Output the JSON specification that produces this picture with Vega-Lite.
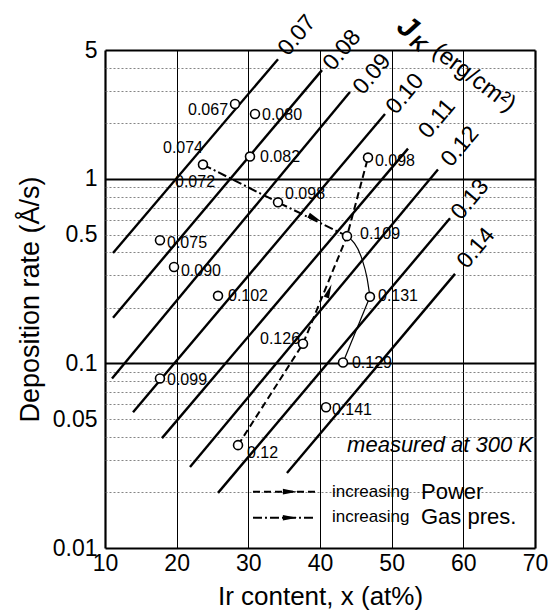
{
  "$schema": "https://vega.github.io/schema/vega-lite/v6.json",
  "width": 430,
  "height": 498,
  "autosize": {"type": "none"},
  "padding": {"left": 105, "top": 50, "right": 13, "bottom": 66},
  "background": "white",
  "config": {"view": {"stroke": null}, "font": "Liberation Sans"},
  "datasets": {
    "contours": [
      {"J": "0.07", "x": 11.12, "y": 0.397}, {"J": "0.07", "x": 34.14, "y": 4.46},
      {"J": "0.08", "x": 11.12, "y": 0.177}, {"J": "0.08", "x": 40.28, "y": 3.89},
      {"J": "0.09", "x": 10.98, "y": 0.083}, {"J": "0.09", "x": 44.18, "y": 2.96},
      {"J": "0.10", "x": 13.91, "y": 0.0544}, {"J": "0.10", "x": 49.07, "y": 2.25},
      {"J": "0.11", "x": 17.95, "y": 0.0394}, {"J": "0.11", "x": 52.28, "y": 1.46},
      {"J": "0.12", "x": 21.86, "y": 0.0275}, {"J": "0.12", "x": 56.46, "y": 1.125},
      {"J": "0.13", "x": 25.77, "y": 0.0199}, {"J": "0.13", "x": 58.14, "y": 0.612},
      {"J": "0.14", "x": 35.39, "y": 0.0255}, {"J": "0.14", "x": 58.84, "y": 0.306}
    ],
    "clabels": [
      {"x": 36.79, "y": 6.01, "t": "0.07"},
      {"x": 43.07, "y": 4.99, "t": "0.08"},
      {"x": 47.25, "y": 3.70, "t": "0.09"},
      {"x": 51.86, "y": 2.89, "t": "0.10"},
      {"x": 56.32, "y": 2.12, "t": "0.11"},
      {"x": 59.53, "y": 1.50, "t": "0.12"},
      {"x": 60.93, "y": 0.775, "t": "0.13"},
      {"x": 61.77, "y": 0.422, "t": "0.14"}
    ],
    "pts": [
      {"x": 28.14, "y": 2.55}, {"x": 30.93, "y": 2.25}, {"x": 23.67, "y": 1.197},
      {"x": 30.23, "y": 1.322}, {"x": 34.14, "y": 0.747}, {"x": 46.70, "y": 1.306},
      {"x": 43.77, "y": 0.490}, {"x": 46.97, "y": 0.2297}, {"x": 17.67, "y": 0.466},
      {"x": 19.63, "y": 0.3334}, {"x": 25.77, "y": 0.2326}, {"x": 37.63, "y": 0.128},
      {"x": 43.21, "y": 0.1012}, {"x": 40.84, "y": 0.0579}, {"x": 17.67, "y": 0.083},
      {"x": 28.56, "y": 0.0361}
    ],
    "plabels": [
      {"x": 21.58, "y": 2.37, "t": "0.067"}, {"x": 31.91, "y": 2.23, "t": "0.080"},
      {"x": 18.09, "y": 1.479, "t": "0.074"}, {"x": 19.77, "y": 0.957, "t": "0.072"},
      {"x": 31.63, "y": 1.322, "t": "0.082"}, {"x": 35.12, "y": 0.825, "t": "0.098"},
      {"x": 47.67, "y": 1.258, "t": "0.098"}, {"x": 45.58, "y": 0.502, "t": "0.109"},
      {"x": 48.09, "y": 0.233, "t": "0.131"}, {"x": 18.65, "y": 0.449, "t": "0.075"},
      {"x": 20.60, "y": 0.317, "t": "0.090"}, {"x": 27.16, "y": 0.2326, "t": "0.102"},
      {"x": 31.63, "y": 0.1363, "t": "0.126"}, {"x": 44.46, "y": 0.1012, "t": "0.129"},
      {"x": 41.67, "y": 0.0558, "t": "0.141"}, {"x": 18.65, "y": 0.081, "t": "0.099"},
      {"x": 29.81, "y": 0.0327, "t": "0.12"}
    ],
    "power": [
      {"i": 1, "x": 28.56, "y": 0.0361}, {"i": 2, "x": 37.63, "y": 0.128},
      {"i": 3, "x": 43.77, "y": 0.490}, {"i": 4, "x": 46.70, "y": 1.306}
    ],
    "gas": [
      {"i": 1, "x": 23.67, "y": 1.197}, {"i": 2, "x": 34.14, "y": 0.747}, {"i": 3, "x": 43.77, "y": 0.490}
    ],
    "gascurve": [
      {"i": 1, "x": 43.77, "y": 0.490}, {"i": 2, "x": 45.86, "y": 0.368},
      {"i": 3, "x": 46.56, "y": 0.2908}, {"i": 4, "x": 46.97, "y": 0.2297}
    ],
    "gasend": [
      {"i": 1, "x": 46.97, "y": 0.2297}, {"i": 2, "x": 43.21, "y": 0.1012}
    ],
    "arrows": [
      {"k": "gas", "x": 39.30, "y": 0.612},
      {"k": "power", "x": 41.25, "y": 0.2474},
      {"k": "leg", "x": 35.81, "y": 0.0202},
      {"k": "leg", "x": 35.81, "y": 0.01459}
    ],
    "leg": [
      {"k": "p", "x": 30.65, "y": 0.0202}, {"k": "p", "x": 39.30, "y": 0.0202},
      {"k": "g", "x": 30.65, "y": 0.01459}, {"k": "g", "x": 39.30, "y": 0.01459}
    ],
    "legsmall": [
      {"x": 41.67, "y": 0.0202, "t": "increasing"},
      {"x": 41.67, "y": 0.01479, "t": "increasing"}
    ],
    "legbig": [
      {"x": 54.09, "y": 0.0202, "t": "Power"},
      {"x": 54.09, "y": 0.01479, "t": "Gas pres."}
    ],
    "note": [{"x": 69.72, "y": 0.0361, "t": "measured at 300 K"}],
    "jJ": [{"x": 52.14, "y": 6.64, "t": "J"}],
    "jK": [{"x": 53.67, "y": 5.38, "t": "K"}],
    "jrest": [{"x": 61.49, "y": 3.53, "t": "(erg/cm²)"}]
  },
  "encoding": {
    "x": {
      "field": "x", "type": "quantitative",
      "scale": {"domain": [10, 70], "nice": false, "zero": false},
      "axis": {
        "values": [10, 20, 30, 40, 50, 60, 70], "grid": true, "gridColor": "black",
        "gridOpacity": 1,
        "gridWidth": {"condition": {"test": "datum.value === 10 || datum.value === 70", "value": 2.2}, "value": 1},
        "ticks": false, "domain": false,
        "labelFontSize": 23, "labelPadding": 4, "labelColor": "black", "labelFlush": false,
        "labelFont": "Liberation Sans",
        "title": "Ir content, x (at%)", "titleFontSize": 26, "titleFontWeight": "normal",
        "titleFont": "Liberation Sans", "titlePadding": 8, "titleColor": "black"
      }
    },
    "y": {
      "field": "y", "type": "quantitative",
      "scale": {"type": "log", "domain": [0.01, 5], "nice": false},
      "axis": {
        "values": [0.01, 0.02, 0.03, 0.04, 0.05, 0.06, 0.07, 0.08, 0.09, 0.1, 0.2, 0.3, 0.4, 0.5, 0.6, 0.7, 0.8, 0.9, 1, 2, 3, 4, 5],
        "format": "~g",
        "labelExpr": "(datum.value === 0.01 || datum.value === 0.05 || datum.value === 0.1 || datum.value === 0.5 || datum.value === 1 || datum.value === 5) ? datum.label : ''",
        "grid": true, "gridOpacity": 1,
        "gridColor": {"condition": {"test": "datum.value === 0.01 || datum.value === 0.1 || datum.value === 1 || datum.value === 5", "value": "black"}, "value": "#666"},
        "gridDash": {"condition": {"test": "datum.value === 0.01 || datum.value === 0.1 || datum.value === 1 || datum.value === 5", "value": []}, "value": [2, 2]},
        "gridWidth": {"condition": {"test": "datum.value === 0.01 || datum.value === 0.1 || datum.value === 1 || datum.value === 5", "value": 2}, "value": 0.8},
        "ticks": false,
        "domain": false, "labelFontSize": 23, "labelPadding": 8, "labelColor": "black",
        "labelFlush": false, "labelFont": "Liberation Sans", "labelOverlap": false,
        "title": "Deposition rate (Å/s)", "titleFontSize": 27, "titleFontWeight": "normal",
        "titleFont": "Liberation Sans", "titlePadding": 8, "titleColor": "black"
      }
    }
  },
  "layer": [
    {
      "data": {"name": "contours"},
      "mark": {"type": "line", "color": "black", "strokeWidth": 2.4},
      "encoding": {"detail": {"field": "J"}}
    },
    {
      "data": {"name": "power"},
      "mark": {"type": "line", "color": "black", "strokeWidth": 2, "strokeDash": [7, 4]},
      "encoding": {"order": {"field": "i"}}
    },
    {
      "data": {"name": "gas"},
      "mark": {"type": "line", "color": "black", "strokeWidth": 2, "strokeDash": [9, 3, 2, 3]},
      "encoding": {"order": {"field": "i"}}
    },
    {
      "data": {"name": "gascurve"},
      "mark": {"type": "line", "color": "black", "strokeWidth": 1.2, "interpolate": "monotone"},
      "encoding": {"order": {"field": "i"}}
    },
    {
      "data": {"name": "gasend"},
      "mark": {"type": "line", "color": "black", "strokeWidth": 1.2},
      "encoding": {"order": {"field": "i"}}
    },
    {
      "data": {"name": "leg"},
      "transform": [{"filter": "datum.k === 'p'"}],
      "mark": {"type": "line", "color": "black", "strokeWidth": 2, "strokeDash": [7, 4]},
      "encoding": {}
    },
    {
      "data": {"name": "leg"},
      "transform": [{"filter": "datum.k === 'g'"}],
      "mark": {"type": "line", "color": "black", "strokeWidth": 2, "strokeDash": [9, 3, 2, 3]},
      "encoding": {}
    },
    {
      "data": {"name": "arrows"},
      "transform": [{"filter": "datum.k === 'gas'"}],
      "mark": {"type": "point", "shape": "M1,0L-1,-0.4L-1,0.4Z", "filled": true, "color": "black", "opacity": 1, "size": 200, "angle": 26}
    },
    {
      "data": {"name": "arrows"},
      "transform": [{"filter": "datum.k === 'power'"}],
      "mark": {"type": "point", "shape": "M1,0L-1,-0.4L-1,0.4Z", "filled": true, "color": "black", "opacity": 1, "size": 200, "angle": -68}
    },
    {
      "data": {"name": "arrows"},
      "transform": [{"filter": "datum.k === 'leg'"}],
      "mark": {"type": "point", "shape": "M1,0L-1,-0.4L-1,0.4Z", "filled": true, "color": "black", "opacity": 1, "size": 200, "angle": 0}
    },
    {
      "data": {"name": "pts"},
      "mark": {"type": "point", "shape": "circle", "filled": true, "fill": "white", "stroke": "black", "strokeWidth": 1.6, "opacity": 1, "size": 80}
    },
    {
      "data": {"name": "plabels"},
      "mark": {"type": "text", "align": "left", "baseline": "middle", "fontSize": 16, "font": "Liberation Sans", "color": "black"},
      "encoding": {"text": {"field": "t"}}
    },
    {
      "data": {"name": "clabels"},
      "mark": {"type": "text", "align": "center", "baseline": "middle", "fontSize": 23, "font": "Liberation Sans", "angle": -50, "color": "black"},
      "encoding": {"text": {"field": "t"}}
    },
    {
      "data": {"name": "jJ"},
      "mark": {"type": "text", "align": "center", "baseline": "middle", "fontSize": 30, "fontWeight": "bold", "fontStyle": "italic", "font": "Liberation Sans", "angle": 37, "color": "black"},
      "encoding": {"text": {"field": "t"}}
    },
    {
      "data": {"name": "jK"},
      "mark": {"type": "text", "align": "center", "baseline": "middle", "fontSize": 20, "fontWeight": "bold", "fontStyle": "italic", "font": "Liberation Sans", "angle": 37, "color": "black"},
      "encoding": {"text": {"field": "t"}}
    },
    {
      "data": {"name": "jrest"},
      "mark": {"type": "text", "align": "center", "baseline": "middle", "fontSize": 24, "font": "Liberation Sans", "angle": 37, "color": "black"},
      "encoding": {"text": {"field": "t"}}
    },
    {
      "data": {"name": "note"},
      "mark": {"type": "text", "align": "right", "baseline": "middle", "fontSize": 22, "fontStyle": "italic", "font": "Liberation Sans", "color": "black"},
      "encoding": {"text": {"field": "t"}}
    },
    {
      "data": {"name": "legsmall"},
      "mark": {"type": "text", "align": "left", "baseline": "middle", "fontSize": 17, "font": "Liberation Sans", "color": "black"},
      "encoding": {"text": {"field": "t"}}
    },
    {
      "data": {"name": "legbig"},
      "mark": {"type": "text", "align": "left", "baseline": "middle", "fontSize": 22, "font": "Liberation Sans", "color": "black"},
      "encoding": {"text": {"field": "t"}}
    }
  ]
}
